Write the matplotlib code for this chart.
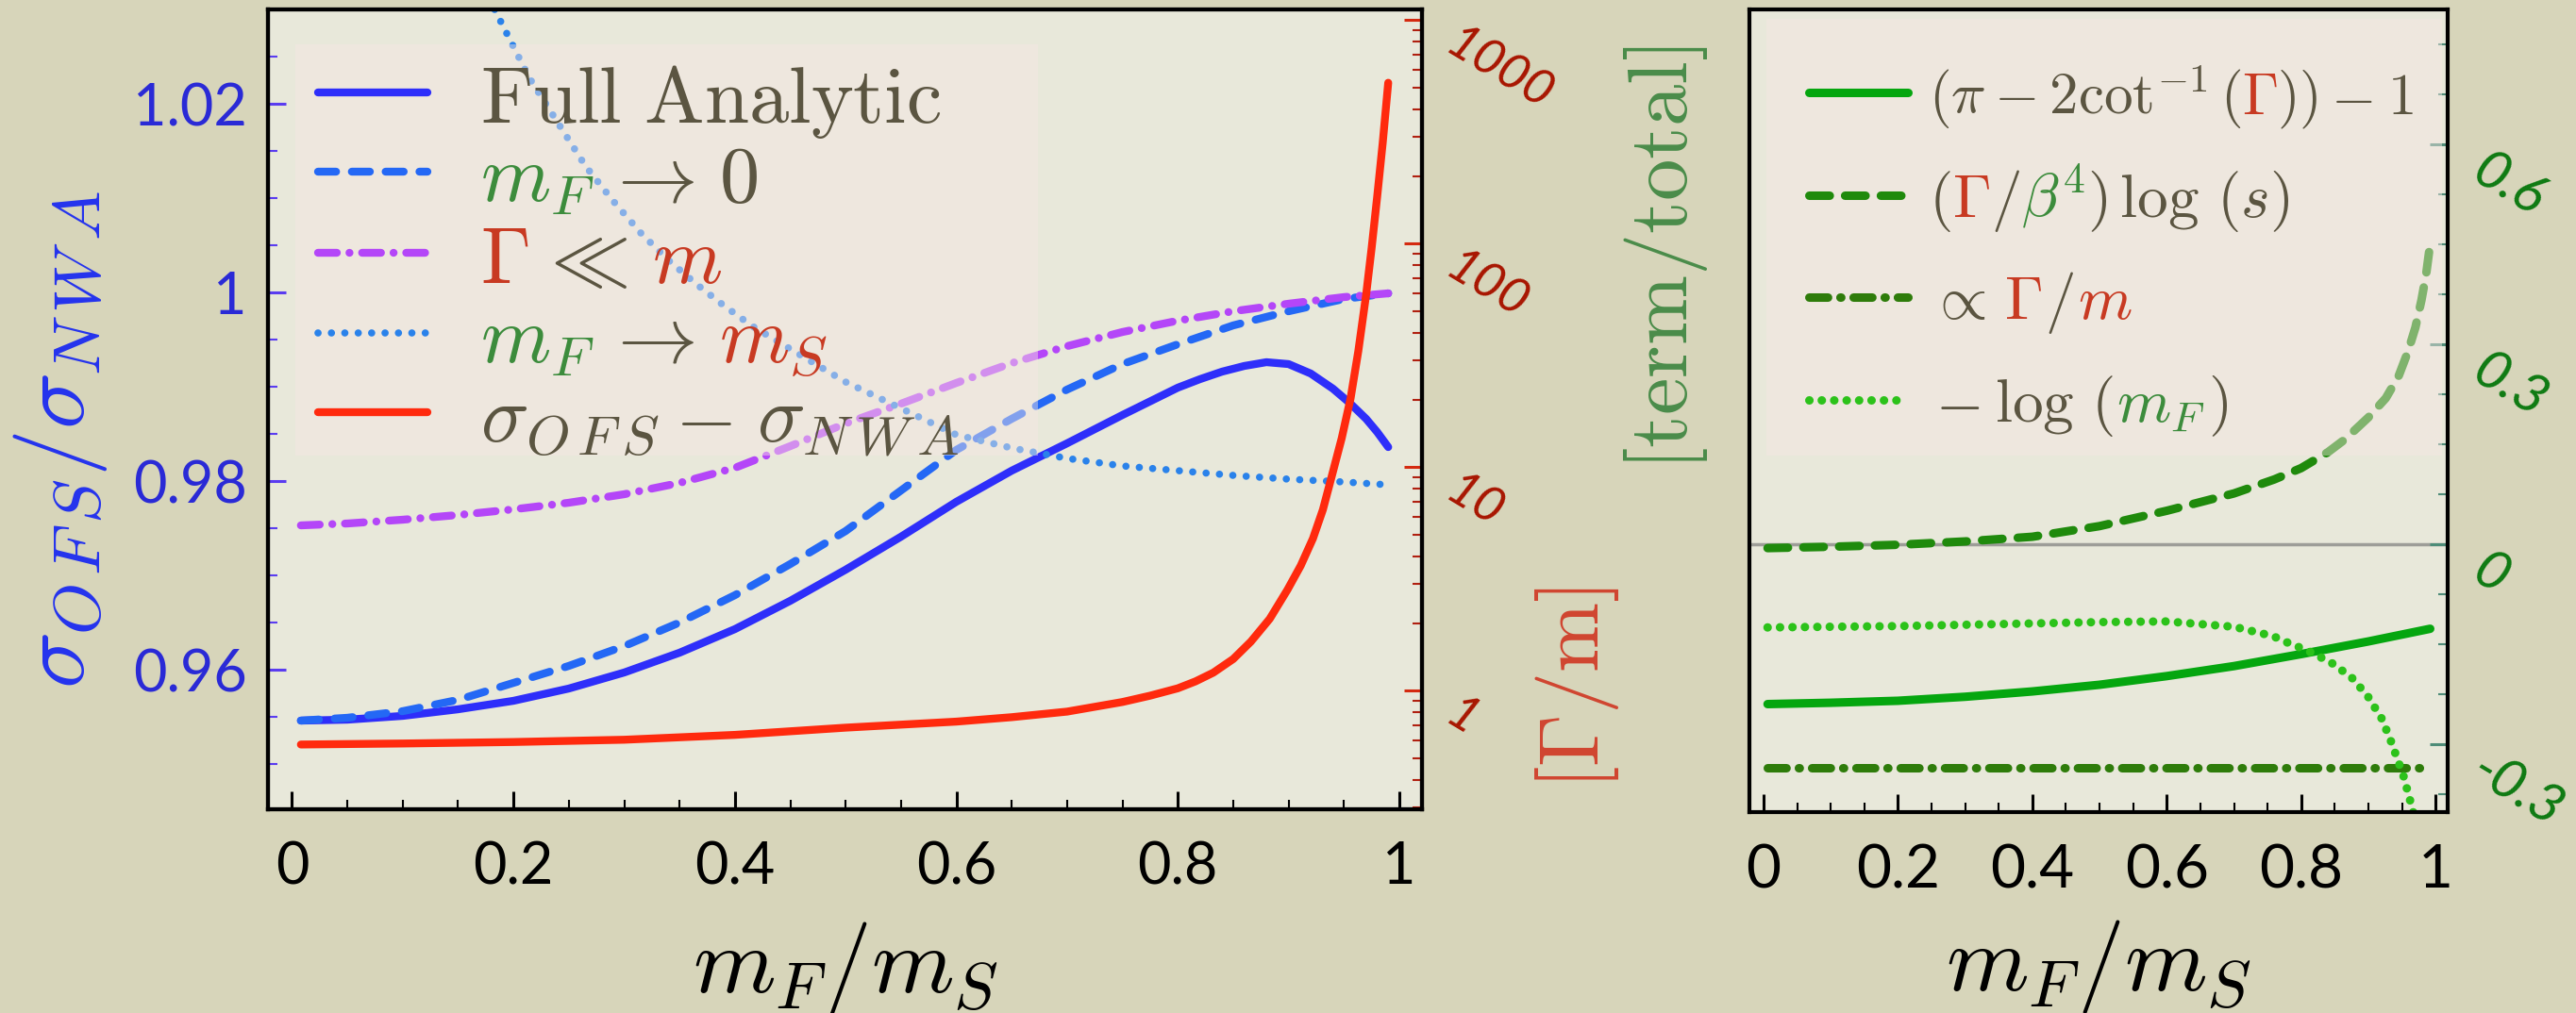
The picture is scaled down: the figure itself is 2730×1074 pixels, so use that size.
import matplotlib
matplotlib.use("Agg")
import matplotlib.pyplot as plt
from matplotlib.ticker import MultipleLocator, LogLocator, NullFormatter
from matplotlib.patches import Rectangle
from matplotlib.lines import Line2D

# ---- data ----
# left panel, sigma_OFS / sigma_NWA
mf_full = [0.008, 0.05, 0.10, 0.15, 0.20, 0.25, 0.30, 0.35, 0.40, 0.45, 0.50, 0.55,
           0.60, 0.65, 0.70, 0.75, 0.80, 0.82, 0.84, 0.86, 0.88, 0.90, 0.92, 0.94,
           0.955, 0.97, 0.98, 0.99]
full_analytic = [0.9546, 0.9547, 0.9551, 0.9558, 0.9567, 0.9580, 0.9597, 0.9618, 0.9643,
                 0.9673, 0.9706, 0.9741, 0.9778, 0.9811, 0.9840, 0.9870, 0.9899, 0.9908,
                 0.9916, 0.9922, 0.9926, 0.9924, 0.9914, 0.9898, 0.9883, 0.9866,
                 0.9852, 0.9836]

mf_zero = [0.008, 0.05, 0.10, 0.15, 0.20, 0.25, 0.30, 0.35, 0.40, 0.45, 0.50, 0.55,
           0.60, 0.65, 0.70, 0.75, 0.80, 0.85, 0.90, 0.95, 0.99]
mf_to_zero = [0.9546, 0.9549, 0.9556, 0.9568, 0.9586, 0.9604, 0.9625, 0.9650, 0.9679,
              0.9712, 0.9747, 0.9790, 0.9833, 0.9866, 0.9897, 0.9924, 0.9945, 0.9965,
              0.9980, 0.9993, 0.9999]

mf_narrow = [0.008, 0.05, 0.10, 0.15, 0.20, 0.25, 0.30, 0.35, 0.40, 0.45, 0.50, 0.55,
             0.60, 0.65, 0.70, 0.75, 0.80, 0.85, 0.90, 0.95, 0.99]
narrow_width = [0.9753, 0.9755, 0.9759, 0.9764, 0.9770, 0.9777, 0.9786, 0.9798, 0.9814,
                0.9837, 0.9861, 0.9882, 0.9904, 0.9925, 0.9943, 0.9958, 0.9970, 0.9980,
                0.9988, 0.9995, 0.9999]

mf_ms = [0.183, 0.214, 0.24, 0.265, 0.29, 0.315, 0.34, 0.366, 0.39, 0.416, 0.45, 0.50,
         0.55, 0.60, 0.65, 0.70, 0.75, 0.80, 0.85, 0.90, 0.95, 0.99]
mf_to_ms = [1.0300, 1.0228, 1.0180, 1.0134, 1.0097, 1.0063, 1.0034, 1.0008, 0.9986,
            0.9964, 0.9940, 0.9905, 0.9877, 0.9849, 0.9835, 0.9824, 0.9816, 0.9811,
            0.9806, 0.9802, 0.9799, 0.9796]

# left panel, right axis: Gamma / m (log)
mf_gamma = [0.008, 0.10, 0.20, 0.30, 0.40, 0.50, 0.60, 0.65, 0.70, 0.75, 0.775, 0.80,
            0.816, 0.832, 0.85, 0.866, 0.883, 0.899, 0.911, 0.922, 0.931, 0.939, 0.948,
            0.956, 0.963, 0.970, 0.975, 0.980, 0.985, 0.990]
gamma_over_m = [0.575, 0.581, 0.590, 0.604, 0.635, 0.684, 0.728, 0.762, 0.807, 0.891,
                0.951, 1.026, 1.102, 1.205, 1.387, 1.660, 2.099, 2.831, 3.631, 4.797,
                6.457, 9.120, 13.49, 20.32, 33.11, 58.88, 95.5, 161.8, 281.8, 524.8]

# right panel, term / total
mf_r = [0.006, 0.1, 0.2, 0.3, 0.4, 0.5, 0.6, 0.7, 0.8, 0.9, 0.992]
term_acot = [-0.240, -0.238, -0.235, -0.229, -0.221, -0.211, -0.198, -0.183, -0.165,
             -0.146, -0.127]

mf_log_s = [0.006, 0.1, 0.2, 0.3, 0.4, 0.5, 0.6, 0.7, 0.76, 0.8, 0.84, 0.865, 0.9,
            0.926, 0.945, 0.959, 0.97, 0.979, 0.986, 0.992]
term_log_s = [-0.006, -0.004, -0.001, 0.004, 0.011, 0.027, 0.050, 0.076, 0.097, 0.114,
              0.138, 0.157, 0.190, 0.219, 0.252, 0.289, 0.325, 0.366, 0.405, 0.451]

mf_prop = [0.006, 0.992]
term_prop = [-0.336, -0.336]

mf_log_mf = [0.006, 0.1, 0.2, 0.3, 0.4, 0.5, 0.6, 0.7, 0.758, 0.778, 0.81, 0.845, 0.875,
             0.899, 0.92, 0.933, 0.952, 0.966, 0.975]
term_log_mf = [-0.125, -0.124, -0.123, -0.121, -0.119, -0.117, -0.116, -0.124, -0.138,
               -0.147, -0.160, -0.178, -0.200, -0.228, -0.262, -0.294, -0.347, -0.399,
               -0.440]

x_ticks = [0, 0.2, 0.4, 0.6, 0.8, 1]
x_ticklabels = ["0", "0.2", "0.4", "0.6", "0.8", "1"]
left_yticks = [0.96, 0.98, 1.0, 1.02]
left_yticklabels = ["0.96", "0.98", "1", "1.02"]
log_ticks = [1, 10, 100, 1000]
log_ticklabels = ["1", "10", "100", "1000"]
right_yticks = [-0.3, 0, 0.3, 0.6]
right_yticklabels = ["-0.3", "0", "0.3", "0.6"]

# ---- colours ----
BROWN = "#5b5541"
GREEN_T = "#3c8c3c"
RED_T = "#c83a22"
FIG_BG = "#d7d5ba"
AX_BG = "#e8e8da"

plt.rcParams["mathtext.fontset"] = "cm"
plt.rcParams["font.family"] = ["Lato", "DejaVu Sans"]
plt.rcParams["axes.unicode_minus"] = False

W, H = 2730, 1074
fig = plt.figure(figsize=(27.3, 10.74), dpi=100, facecolor=FIG_BG)


def fx(px):
    return px / W


def fy(py):
    return 1 - py / H


styles_left = [
    dict(color="#2e2efa", lw=6, solid_capstyle="round"),
    dict(color="#2468f5", lw=6, dashes=(2.3, 2.0), dash_capstyle="round"),
    dict(color="#b446f8", lw=6, dashes=(2.4, 1.6, 0.01, 1.6), dash_capstyle="round"),
    dict(color="#2a82ea", lw=5.5, dashes=(0.01, 1.85), dash_capstyle="round"),
    dict(color="#ff2a0e", lw=6, solid_capstyle="round"),
]
styles_right = [
    dict(color="#05a60f", lw=6.5, solid_capstyle="round"),
    dict(color="#1f8a0c", lw=6.5, dashes=(2.4, 1.8), dash_capstyle="round"),
    dict(color="#2e7c0a", lw=6.5, dashes=(2.2, 1.45, 0.1, 1.45), dash_capstyle="round"),
    dict(color="#2cc21a", lw=6.5, dashes=(0.01, 1.45), dash_capstyle="round"),
]

# ---------------- left panel ----------------
ax = fig.add_axes([fx(284), fy(858), (1507 - 284) / W, (858 - 10) / H])
ax.set_facecolor(AX_BG)
ax.plot(mf_full, full_analytic, **styles_left[0])
ax.plot(mf_zero, mf_to_zero, **styles_left[1])
ax.plot(mf_narrow, narrow_width, **styles_left[2])
ax.plot(mf_ms, mf_to_ms, **styles_left[3])
ax.set_xlim(-0.0217, 1.0205)
ax.set_ylim(0.9452, 1.0300)
ax.set_xticks(x_ticks)
ax.set_xticklabels(x_ticklabels)
ax.xaxis.set_minor_locator(MultipleLocator(0.05))
ax.set_yticks(left_yticks)
ax.set_yticklabels(left_yticklabels)
ax.yaxis.set_minor_locator(MultipleLocator(0.005))
ax.tick_params(axis="x", which="major", direction="in", length=14, width=2.2,
               color="k", labelsize=44, pad=24, top=False)
ax.tick_params(axis="x", which="minor", direction="in", length=7, width=1.5,
               color="k", top=False)
ax.tick_params(axis="y", which="major", direction="in", length=14, width=2.2,
               color="#5a3cf0", labelcolor="#2a2ad6", labelsize=44, pad=16, right=False)
ax.tick_params(axis="y", which="minor", direction="in", length=7, width=1.5,
               color="#5a3cf0", right=False)

ax2 = ax.twinx()
ax2.plot(mf_gamma, gamma_over_m, **styles_left[4])
ax2.set_yscale("log")
ax2.set_ylim(10 ** -0.530, 10 ** 3.048)
ax2.set_yticks(log_ticks)
ax2.set_yticklabels(log_ticklabels, rotation=-31, va="top", ha="left",
                    fontstyle="italic")
ax2.yaxis.set_minor_locator(LogLocator(base=10, subs=range(2, 10)))
ax2.yaxis.set_minor_formatter(NullFormatter())
ax2.tick_params(axis="y", which="major", direction="in", length=14, width=2.2,
                color="#d42a10", labelcolor="#a81500", labelsize=38, pad=12)
ax2.tick_params(axis="y", which="minor", direction="in", length=7, width=1.5,
                color="#b02010")
for a in (ax, ax2):
    for sp in a.spines.values():
        sp.set_linewidth(3)
        sp.set_color("k")

# ---------------- right panel ----------------
ax3 = fig.add_axes([fx(1854), fy(861), (2594 - 1854) / W, (861 - 10) / H])
ax3.set_facecolor(AX_BG)
ax3.axhline(0, color="#9d9d98", lw=2.5, zorder=1)
ax3.plot(mf_r, term_acot, **styles_right[0])
ax3.plot(mf_log_s, term_log_s, **styles_right[1])
ax3.plot(mf_prop, term_prop, **styles_right[2])
ax3.plot(mf_log_mf, term_log_mf, **styles_right[3])
ax3.set_xlim(-0.021, 1.018)
ax3.set_ylim(-0.402, 0.802)
ax3.set_xticks(x_ticks)
ax3.set_xticklabels(x_ticklabels)
ax3.xaxis.set_minor_locator(MultipleLocator(0.05))
ax3.yaxis.tick_right()
ax3.set_yticks(right_yticks)
ax3.set_yticklabels(right_yticklabels, rotation=-31, va="top", ha="left",
                    fontstyle="italic")
ax3.yaxis.set_minor_locator(MultipleLocator(0.075))
ax3.tick_params(axis="x", which="major", direction="in", length=14, width=2.2,
                color="k", labelsize=46, pad=24, top=False)
ax3.tick_params(axis="x", which="minor", direction="in", length=7, width=1.5,
                color="k", top=False)
ax3.tick_params(axis="y", which="major", direction="in", length=14, width=2.2,
                color="#4d8c78", labelcolor="#0e7a12", labelsize=42, pad=12,
                left=False, right=True)
ax3.tick_params(axis="y", which="minor", direction="in", length=7, width=1.5,
                color="#4d8c78", left=False, right=True)
for sp in ax3.spines.values():
    sp.set_linewidth(3)
    sp.set_color("k")

# ---------------- axis labels ----------------
fig.text(fx(64), fy(466), r"$\sigma_{O\,F\,S}/\sigma_{N\,W\,A}$", rotation=90,
         ha="center", va="center", color="#2433ee", fontsize=72)
fig.text(fx(1671), fy(730), r"$[\Gamma/\mathrm{m}]$", rotation=90,
         ha="center", va="center", color="#d04530", fontsize=64)
fig.text(fx(1765), fy(274), r"$[\mathrm{term}/\mathrm{total}]$", rotation=90,
         ha="center", va="center", color="#4a8c4a", fontsize=64)
fig.text(fx(896), fy(1052), r"$m_F/m_S$", ha="center", va="baseline",
         fontsize=72, color="k")
fig.text(fx(2224), fy(1050), r"$m_F/m_S$", ha="center", va="baseline",
         fontsize=72, color="k")

# ---------------- legends (drawn by hand for multi-coloured labels) ----------------
renderer = fig.canvas.get_renderer()


def draw_row(x_px, base_px, pieces, size):
    em = size * 100 / 72
    x = x_px
    for s, c, gap in pieces:
        x += gap * em
        t = fig.text(fx(x), fy(base_px), s, color=c, fontsize=size,
                     ha="left", va="baseline", zorder=7)
        x += t.get_window_extent(renderer).width


fig.add_artist(Rectangle((fx(313), fy(483)), (1100 - 313) / W, (483 - 47) / H,
                         transform=fig.transFigure, facecolor="#f7e6e4",
                         alpha=0.45, edgecolor="none", zorder=5))
fig.add_artist(Rectangle((fx(1872), fy(483)), (2588 - 1872) / W, (483 - 20) / H,
                         transform=fig.transFigure, facecolor="#f7e6e4",
                         alpha=0.45, edgecolor="none", zorder=5))

left_rows = [97.6, 182, 267.7, 352.7, 437]
left_labels = [
    [(r"$\mathrm{Full\ Analytic}$", BROWN, 0)],
    [(r"$m_F$", GREEN_T, 0), (r"$\rightarrow$", BROWN, 0.12), (r"$0$", BROWN, 0.3)],
    [(r"$\Gamma$", RED_T, 0), (r"$\ll$", BROWN, 0.1), (r"$m$", RED_T, 0.3)],
    [(r"$m_F$", GREEN_T, 0), (r"$\rightarrow$", BROWN, 0.12), (r"$m_S$", RED_T, 0.3)],
    [(r"$\sigma_{O\,F\,S}$", BROWN, 0), (r"$-$", BROWN, 0.2),
     (r"$\sigma_{N\,W\,A}$", BROWN, 0.3)],
]
for row_y, st, lab in zip(left_rows, styles_left, left_labels):
    fig.add_artist(Line2D([fx(337), fx(453)], [fy(row_y), fy(row_y)],
                          transform=fig.transFigure, zorder=6, **st))
    draw_row(509, row_y + 32, lab, 61)

right_rows = [97.6, 207, 315, 424]
right_labels = [
    [(r"$(\pi - 2\cot^{-1}($", BROWN, 0), (r"$\Gamma$", RED_T, 0.0),
     (r"$))$", BROWN, 0.0), (r"$-$", BROWN, 0.22), (r"$1$", BROWN, 0.25)],
    [(r"$($", BROWN, 0), (r"$\Gamma$", RED_T, 0.02), (r"$/$", BROWN, 0.02),
     (r"$\beta^4$", GREEN_T, 0.02), (r"$)\,\log\,(s)$", BROWN, 0.02)],
    [(r"$\propto$", BROWN, 0), (r"$\Gamma$", RED_T, 0.3), (r"$/$", BROWN, 0.05),
     (r"$m$", RED_T, 0.05)],
    [(r"$-$", BROWN, 0.1), (r"$\log\,($", BROWN, 0.25), (r"$m_F$", GREEN_T, 0.05),
     (r"$)$", BROWN, 0.05)],
]
right_sizes = [44, 47, 47, 47]
for row_y, st, lab, size in zip(right_rows, styles_right, right_labels, right_sizes):
    fig.add_artist(Line2D([fx(1917), fx(2022)], [fy(row_y), fy(row_y)],
                          transform=fig.transFigure, zorder=6, **st))
    draw_row(2044, row_y + 23, lab, size)

fig.savefig("out.png", dpi=100, facecolor=fig.get_facecolor())
